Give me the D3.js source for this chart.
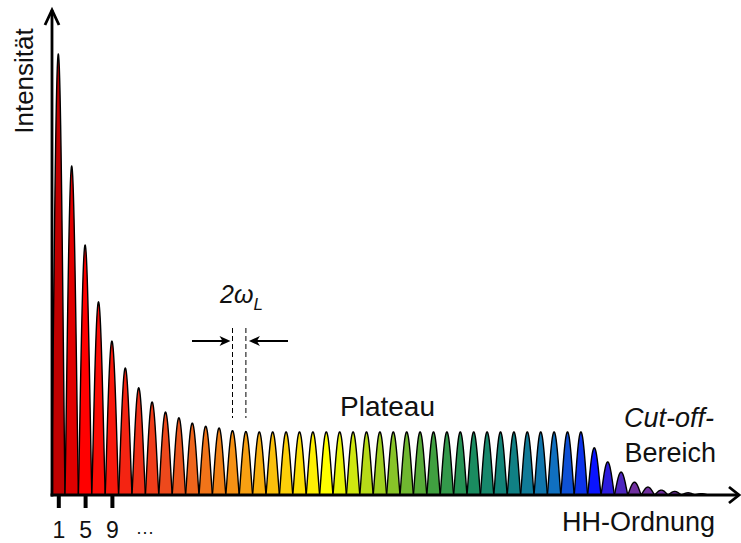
<!DOCTYPE html>
<html>
<head>
<meta charset="utf-8">
<script src="https://d3js.org/d3.v7.min.js"></script>
<style>
  body { margin: 0; background: #fff; }
  text { font-family: 'Liberation Sans', Arial, sans-serif; fill: #111; }
</style>
</head>
<body>
<script>
// harmonic orders (odd only) and their relative intensity
var orders = [1, 3, 5, 7, 9, 11, 13, 15, 17, 19, 21, 23, 25, 27, 29, 31, 33, 35, 37, 39,
              41, 43, 45, 47, 49, 51, 53, 55, 57, 59, 61, 63, 65, 67, 69, 71, 73, 75, 77, 79,
              81, 83, 85, 87, 89, 91, 93, 95, 97];
var intensity = [1.00, 0.746, 0.567, 0.438, 0.349, 0.288, 0.243, 0.211, 0.188, 0.175,
                 0.163, 0.156, 0.152, 0.146, 0.144, 0.143, 0.143, 0.143, 0.143, 0.143,
                 0.143, 0.143, 0.143, 0.143, 0.143, 0.143, 0.143, 0.143, 0.143, 0.143,
                 0.143, 0.143, 0.143, 0.143, 0.143, 0.143, 0.143, 0.143, 0.143, 0.143,
                 0.107, 0.075, 0.052, 0.029, 0.018, 0.011, 0.008, 0.005, 0.003];
var tickOrders = [1, 5, 9];

// rainbow colour stops (peak index -> colour)
var colorIdx   = [0, 2, 6, 9, 14, 20, 28, 31, 34, 37, 40, 43, 48];
var colorStops = ['#c00000', '#ff0000', '#f03018', '#ec561e', '#f8a012', '#ffff00',
                  '#40a040', '#1a8c60', '#108084', '#1070c0', '#0a14ff', '#7030a0', '#7030a0'];

var W = 741, H = 543;
var svg = d3.select('body').append('svg').attr('width', W).attr('height', H);

var x = d3.scaleLinear().domain([1, 97]).range([58.3, 701.5]);
var y = d3.scaleLinear().domain([0, 1]).range([495, 54]);
var color = d3.scaleLinear().domain(colorIdx).range(colorStops).interpolate(d3.interpolateRgb);

// peak profile, t runs over one half-spacing either side
var ts = d3.range(-1, 1.0001, 0.05);
var area = d3.area()
    .x(function (d) { return x(d.x); })
    .y0(y(0))
    .y1(function (d) { return y(d.y); });

svg.selectAll('path.peak')
    .data(orders)
  .enter().append('path')
    .attr('class', 'peak')
    .attr('d', function (o, i) {
      return area(ts.map(function (t) {
        var c = Math.max(0, Math.cos(Math.PI * t / 2));
        return { x: o + t, y: intensity[i] * Math.pow(c, 1.1) };
      }));
    })
    .attr('fill', function (o, i) { return color(i); })
    .attr('stroke', '#000')
    .attr('stroke-width', 1.4)
    .attr('stroke-linejoin', 'round');

// x ticks
var xAxis = svg.append('g')
    .attr('transform', 'translate(0,' + y(0) + ')')
    .call(d3.axisBottom(x).tickValues(tickOrders).tickSize(13).tickPadding(14).tickFormat(d3.format('d')));
xAxis.select('.domain').remove();
xAxis.selectAll('.tick line').attr('stroke', '#000').attr('stroke-width', 4);
xAxis.selectAll('.tick text')
    .style('font-family', "'Liberation Sans', Arial, sans-serif")
    .style('font-size', '23px')
    .attr('fill', '#111');

svg.append('text')
    .attr('x', 145).attr('y', 538)
    .attr('text-anchor', 'middle')
    .style('font-size', '18px')
    .text('···');

// axis lines with arrows
var axes = svg.append('g')
    .attr('fill', 'none').attr('stroke', '#000')
    .attr('stroke-width', 2.8).attr('stroke-linejoin', 'miter');
axes.append('path').attr('d', 'M52,' + (y(0) + 1.4) + 'V10');
axes.append('path').attr('d', 'M45,25L52,10L59,25');
axes.append('path').attr('d', 'M50.6,' + y(0) + 'H739');
axes.append('path').attr('d', 'M729,' + (y(0) - 8) + 'L739,' + y(0) + 'L729,' + (y(0) + 8));

// axis titles
svg.append('text')
    .attr('transform', 'translate(33,81) rotate(-90)')
    .attr('text-anchor', 'middle')
    .style('font-size', '26px')
    .text('Intensität');

svg.append('text')
    .attr('x', 715).attr('y', 531)
    .attr('text-anchor', 'end')
    .style('font-size', '27px')
    .text('HH-Ordnung');

svg.append('text')
    .attr('x', 340).attr('y', 416)
    .style('font-size', '28px')
    .text('Plateau');

svg.append('text')
    .attr('x', 714).attr('y', 427)
    .attr('text-anchor', 'end')
    .style('font-size', '27px')
    .style('font-style', 'italic')
    .text('Cut-off-');

svg.append('text')
    .attr('x', 716).attr('y', 462)
    .attr('text-anchor', 'end')
    .style('font-size', '27px')
    .text('Bereich');

// 2 omega_L spacing marker
var xa = x(27), xb = x(29);
svg.selectAll('line.dash')
    .data([xa, xb])
  .enter().append('line')
    .attr('class', 'dash')
    .attr('x1', function (d) { return d; }).attr('x2', function (d) { return d; })
    .attr('y1', 328).attr('y2', 418)
    .attr('stroke', '#000').attr('stroke-width', 1)
    .attr('stroke-dasharray', '5,3');

var ay = 341;
svg.append('line').attr('x1', 192).attr('x2', xa - 9).attr('y1', ay).attr('y2', ay)
    .attr('stroke', '#000').attr('stroke-width', 2);
svg.append('path')
    .attr('d', 'M' + (xa - 2) + ',' + ay + 'L' + (xa - 13) + ',' + (ay - 5) + 'L' + (xa - 10) + ',' + ay + 'L' + (xa - 13) + ',' + (ay + 5) + 'Z')
    .attr('fill', '#000');
svg.append('line').attr('x1', 288).attr('x2', xb + 9).attr('y1', ay).attr('y2', ay)
    .attr('stroke', '#000').attr('stroke-width', 2);
svg.append('path')
    .attr('d', 'M' + (xb + 3) + ',' + ay + 'L' + (xb + 14) + ',' + (ay - 5) + 'L' + (xb + 11) + ',' + ay + 'L' + (xb + 14) + ',' + (ay + 5) + 'Z')
    .attr('fill', '#000');

var om = svg.append('text')
    .attr('x', 220).attr('y', 303)
    .style('font-size', '25px')
    .style('font-style', 'italic');
om.append('tspan').text('2ω');
om.append('tspan').attr('dy', 7).style('font-size', '17px').text('L');
</script>
</body>
</html>
